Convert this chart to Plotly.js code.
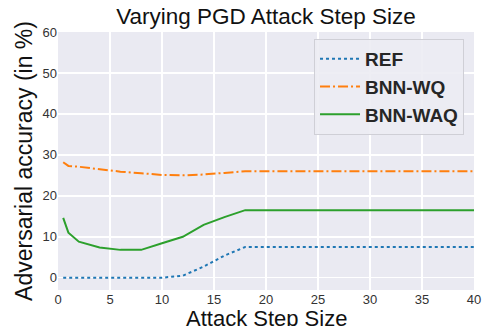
<!DOCTYPE html>
<html>
<head>
<meta charset="utf-8">
<script src="https://cdn.plot.ly/plotly-3.0.1.min.js"></script>
<style>html,body{margin:0;padding:0;background:#fff;}#chart{width:489px;height:326px;}</style>
</head>
<body>
<div id="chart"></div>
<script>
var stepSizes = [0.5, 1, 2, 4, 6, 8, 10, 12, 14, 16, 18, 20, 22, 24, 26, 28, 30, 32, 34, 36, 38, 40];
var refAcc    = [0, 0, 0, 0, 0, 0, 0, 0.5, 2.7, 5.4, 7.5, 7.5, 7.5, 7.5, 7.5, 7.5, 7.5, 7.5, 7.5, 7.5, 7.5, 7.5];
var wqAcc     = [28.2, 27.3, 27.1, 26.5, 25.9, 25.5, 25.1, 25.0, 25.2, 25.6, 26.0, 26.0, 26.0, 26.0, 26.0, 26.0, 26.0, 26.0, 26.0, 26.0, 26.0, 26.0];
var waqAcc    = [14.6, 11.0, 8.8, 7.4, 6.8, 6.8, 8.4, 10.0, 12.9, 14.8, 16.5, 16.5, 16.5, 16.5, 16.5, 16.5, 16.5, 16.5, 16.5, 16.5, 16.5, 16.5];
var seriesNames = ["REF", "BNN-WQ", "BNN-WAQ"];
var xTicks = [0, 5, 10, 15, 20, 25, 30, 35, 40];
var yTicks = [0, 10, 20, 30, 40, 50, 60];
var xTitle = "Attack Step Size";

var traces = [
  {x: stepSizes, y: refAcc, name: seriesNames[0], mode: "lines",
   line: {color: "#1f77b4", width: 2, dash: "dot"}},
  {x: stepSizes, y: wqAcc, name: seriesNames[1], mode: "lines",
   line: {color: "#ff7f0e", width: 2, dash: "10px,3px,2px,3px"}},
  {x: stepSizes, y: waqAcc, name: seriesNames[2], mode: "lines",
   line: {color: "#2ca02c", width: 2}}
];

var layout = {
  width: 489, height: 326,
  margin: {l: 58, r: 15, t: 32, b: 36, pad: 0},
  paper_bgcolor: "#ffffff",
  plot_bgcolor: "#EAEAF2",
  font: {family: "Liberation Sans, Arial, sans-serif", color: "#262626"},
  title: {text: "Varying PGD Attack Step Size", font: {size: 22.5, color: "#111"},
          x: 0.544, xanchor: "center", y: 0.975, yanchor: "top"},
  xaxis: {range: [0, 40], tickvals: xTicks, ticktext: xTicks.map(String),
          showgrid: true, gridcolor: "#ffffff", gridwidth: 1.5, zeroline: false,
          showline: false, ticks: "", tickfont: {size: 13, color: "#333"}},
  yaxis: {range: [-3, 60], tickvals: yTicks, ticktext: yTicks.map(String),
          showgrid: true, gridcolor: "#ffffff", gridwidth: 1.5, zeroline: false,
          showline: false, ticks: "", tickfont: {size: 13, color: "#333"},
          title: {text: "Adversarial accuracy (in %)", font: {size: 23, color: "#111"}, standoff: 3}},
  annotations: [{text: xTitle, xref: "paper", yref: "paper", x: 0.5, y: 0,
                 xanchor: "center", yanchor: "top", yshift: -14, showarrow: false,
                 font: {size: 22, color: "#111"}}],
  legend: {x: 0.976, xanchor: "right", y: 0.973, yanchor: "top",
           bgcolor: "rgba(236,236,243,0.9)", bordercolor: "#cfcfd6", borderwidth: 1,
           font: {size: 19, color: "#262626", weight: "bold"},
           itemwidth: 40},
  showlegend: true
};

Plotly.newPlot("chart", traces, layout, {staticPlot: true, displayModeBar: false});
</script>
</body>
</html>
